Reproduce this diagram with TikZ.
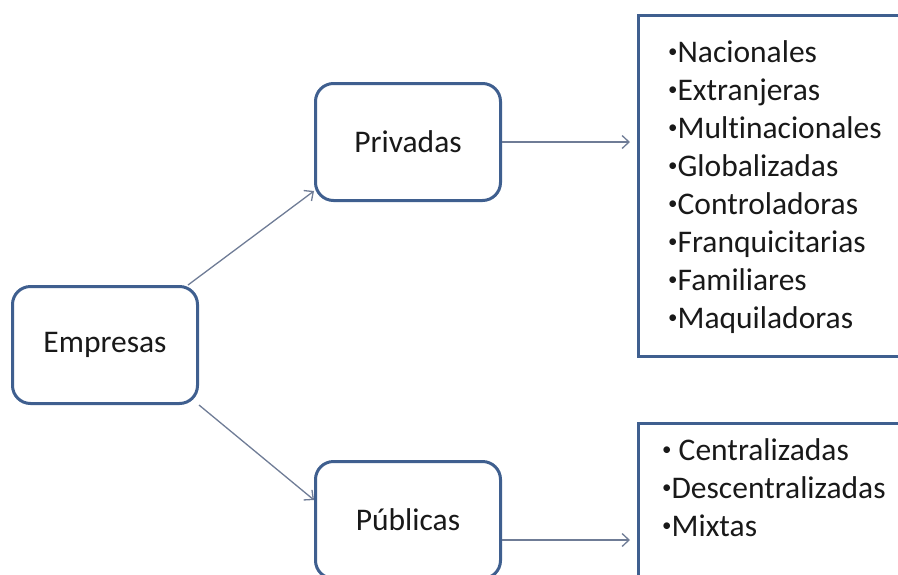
\documentclass[tikz,border=0pt]{standalone}
\usepackage{fontspec}
\setmainfont{Carlito}[Ligatures=NoCommon]
\usepackage{tikz}
\usetikzlibrary{arrows.meta,positioning,calc}
\usepackage{xcolor}
\definecolor{boxblue}{HTML}{3F5F8F}
\definecolor{arrowgray}{HTML}{6F7C96}
\newcommand{\punto}{\raisebox{0.28ex}{\scalebox{0.6}{•}}}
\tikzset{
  tipo/.style={draw=boxblue,line width=3pt,rounded corners=18pt,
    minimum width=185pt,minimum height=117pt,fill=white,
    font=\fontsize{31.5}{38}\selectfont,text=black!90},
  listbox/.style={draw=boxblue,line width=3pt,anchor=north west,
    minimum width=290pt,inner sep=0pt},
  listtext/.style={anchor=north west,align=left,inner sep=0pt,
    font=\fontsize{31.5}{38}\selectfont,text=black!90},
  flecha/.style={draw=arrowgray,line width=1.3pt,
    -{Straight Barb[length=7pt,width=13pt,line width=1.3pt]}}
}

\begin{document}
\begin{tikzpicture}[x=1pt,y=-1pt]
  \useasboundingbox (0,0) rectangle (898,574);

  \node[tipo] (empresas) at (105,345) {Empresas};
  \node[tipo] (privadas) at (408,142) {Privadas};
  \node[tipo] (publicas) at (408,520) {Públicas};

  \node[listbox,minimum height=341pt] (privlist) at (637,14) {};
  \node[listbox,minimum height=200pt] (publist) at (637,422) {};

  \node[listtext] (privitems) at (668,40) {%
    \punto Nacionales\\ \punto Extranjeras\\ \punto Multinacionales\\ \punto Globalizadas\\
    \punto Controladoras\\ \punto Franquicitarias\\ \punto Familiares\\ \punto Maquiladoras};
  \node[listtext] (pubitems) at (662,438) {%
    \punto\ Centralizadas\\ \punto Descentralizadas\\ \punto Mixtas};

  \draw[flecha] ([xshift=-11pt]empresas.north east) -- ([yshift=11pt]privadas.south west);
  \draw[flecha] (empresas.south east) -- ([yshift=20pt]publicas.west);
  \draw[flecha,shorten >=7pt] (privadas.east) -- (privadas.east -| privlist.west);
  \draw[flecha,shorten >=7pt] ([yshift=-20pt]publicas.east) -- ([yshift=-20pt]publicas.east -| publist.west);
\end{tikzpicture}
\end{document}
